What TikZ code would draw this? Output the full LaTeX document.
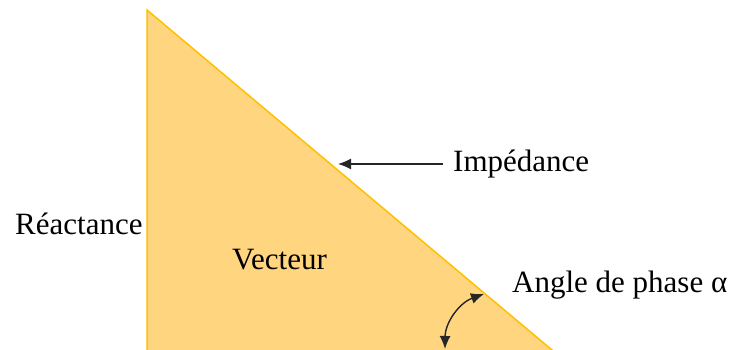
\documentclass[tikz,border=0pt]{standalone}
\usepackage{fontspec}
\setmainfont{Liberation Serif}
\usetikzlibrary{arrows.meta}
\definecolor{trifill}{RGB}{255,213,128}
\definecolor{triedge}{RGB}{255,192,0}
\begin{document}
\begin{tikzpicture}[x=1pt,y=1pt,
  lbl/.style={font=\fontsize{31}{36}\selectfont, inner sep=0pt, text=black},
  arr/.style={line width=1.3pt, draw=black!85, -{Latex[length=13pt,width=11pt]}},
  dblarr/.style={line width=1.4pt, draw=black!85, {Latex[length=13pt,width=11pt]}-{Latex[length=13pt,width=11pt]}}]
\useasboundingbox (0,0) rectangle (731,350);
\clip (0,0) rectangle (731,350);
\coordinate (A) at (147,340);
\coordinate (B) at (147,-20);
\coordinate (C) at (575.8,-20);
\filldraw[fill=trifill, draw=triedge, line width=1.5pt] (A) -- (B) -- (C) -- cycle;
\node[lbl, anchor=base west] (reac) at (15,115) {Réactance};
\node[lbl, anchor=base west] (vec) at (232,80) {Vecteur};
\node[lbl, anchor=base west] (imp) at (453,178) {Impédance};
\node[lbl, anchor=base west] (ang) at (512,57) {Angle de phase α};
\coordinate (impTail) at (443,186);
\coordinate (impTip) at (338,186);
\draw[arr] (impTail) -- (impTip);
\coordinate (angA) at (484,56);
\coordinate (angB) at (445,1);
\draw[dblarr] (angA) to[bend right=35] (angB);
\end{tikzpicture}
\end{document}
